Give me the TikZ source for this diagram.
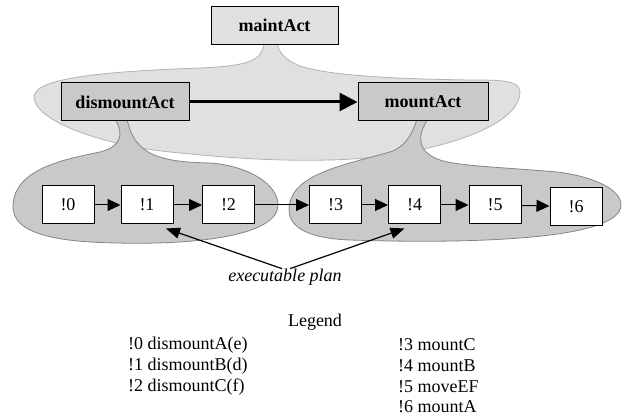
\documentclass[tikz,border=0pt]{standalone}
\usepackage{fontspec}
\setmainfont{Liberation Serif}
\usetikzlibrary{arrows.meta}

\definecolor{maintgray}{gray}{0.88}
\definecolor{actgray}{gray}{0.79}
\definecolor{maintline}{gray}{0.70}
\definecolor{actline}{gray}{0.52}

\tikzset{
  actbox/.style={draw=black, line width=1pt, minimum height=38pt, inner sep=0pt, font=\fontsize{18}{21}\selectfont\bfseries},
  stepbox/.style={draw=black, fill=white, line width=1pt, minimum width=52pt, minimum height=38pt, inner sep=0pt, font=\fontsize{18}{21}\selectfont},
  txt/.style={inner sep=0pt, font=\fontsize{18}{21}\selectfont},
  seqarrow/.style={line width=1pt, -{Triangle[length=13pt,width=12pt]}},
  bigarrow/.style={line width=3pt, -{Triangle[length=18pt,width=18pt]}},
  planarrow/.style={line width=1.2pt, -{Triangle[length=14pt,width=11pt]}},
}

\begin{document}
\begin{tikzpicture}[x=1pt,y=-1pt]
\useasboundingbox (0,0) rectangle (624,419);

% maintAct region
\draw[fill=maintgray,draw=maintline,line width=0.8pt] (264,42)
  .. controls (263,60) and (250,66) .. (200,68)
  .. controls (120,71) and (34,76) .. (34,97)
  .. controls (34,120) and (100,146) .. (180,153)
  .. controls (240,159) and (280,161) .. (330,160)
  .. controls (420,158) and (520,130) .. (520,92)
  .. controls (520,80) and (500,80) .. (470,80)
  .. controls (400,79) and (330,76) .. (300,66)
  .. controls (285,60) and (278,52) .. (277,42) -- cycle;

% dismountAct region
\draw[fill=actgray,draw=actline,line width=0.8pt] (115,119)
  .. controls (125,135) and (120,147) .. (100,152)
  .. controls (60,160) and (15,170) .. (13,205)
  .. controls (11,235) and (60,242) .. (117,243)
  .. controls (200,245) and (278,235) .. (278,205)
  .. controls (278,185) and (250,166) .. (210,163)
  .. controls (160,162) and (134,155) .. (127,119) -- cycle;

% mountAct region
\draw[fill=actgray,draw=actline,line width=0.8pt] (417,119)
  .. controls (412,135) and (405,147) .. (390,152)
  .. controls (340,166) and (289,175) .. (289,210)
  .. controls (289,232) and (320,239) .. (350,240)
  .. controls (470,244) and (621,240) .. (621,205)
  .. controls (621,188) and (590,176) .. (557,172)
  .. controls (500,167) and (450,166) .. (435,158)
  .. controls (422,152) and (414,140) .. (428,119) -- cycle;

\node[actbox,fill=maintgray,minimum width=127pt] (maint) at (274.5,25.5) {maintAct};
\node[actbox,fill=actgray,minimum width=128pt] (dismount) at (125,102) {dismountAct};
\node[actbox,fill=actgray,minimum width=130pt] (mount) at (423,102) {mountAct};
\draw[bigarrow] (dismount) -- (mount);

\node[stepbox] (p0) at (68,205) {!0};
\node[stepbox] (p1) at (147,205) {!1};
\node[stepbox] (p2) at (228.5,205) {!2};
\node[stepbox] (p3) at (335.5,205) {!3};
\node[stepbox] (p4) at (414.5,205) {!4};
\node[stepbox] (p5) at (495,205) {!5};
\node[stepbox] (p6) at (576,206.5) {!6};

\draw[seqarrow] (p0) -- (p1);
\draw[seqarrow] (p1) -- (p2);
\draw[seqarrow] (p2) -- (p3);
\draw[seqarrow] (p3) -- (p4);
\draw[seqarrow] (p4) -- (p5);
\draw[seqarrow] (p5) -- (p6);

\node[txt,font=\fontsize{18}{21}\selectfont\itshape] (exec) at (285,277) {executable plan};
\coordinate (t1) at ([xshift=19pt,yshift=-4pt]p1.south);
\coordinate (t4) at ([xshift=-10pt,yshift=-4pt]p4.south);
\draw[planarrow] ([xshift=-3pt]exec.north) -- (t1);
\draw[planarrow] ([xshift=5pt]exec.north) -- (t4);

% legend
\node[txt] (legend) at (315,322) {Legend};
\node[txt,anchor=west] (l0) at (128,345) {!0 dismountA(e)};
\node[txt,anchor=west] (l1) at (128,366) {!1 dismountB(d)};
\node[txt,anchor=west] (l2) at (128,387) {!2 dismountC(f)};
\node[txt,anchor=west] (l3) at (398,345) {!3 mountC};
\node[txt,anchor=west] (l4) at (398,366) {!4 mountB};
\node[txt,anchor=west] (l5) at (398,387) {!5 moveEF};
\node[txt,anchor=west] (l6) at (398,407) {!6 mountA};

\end{tikzpicture}
\end{document}
